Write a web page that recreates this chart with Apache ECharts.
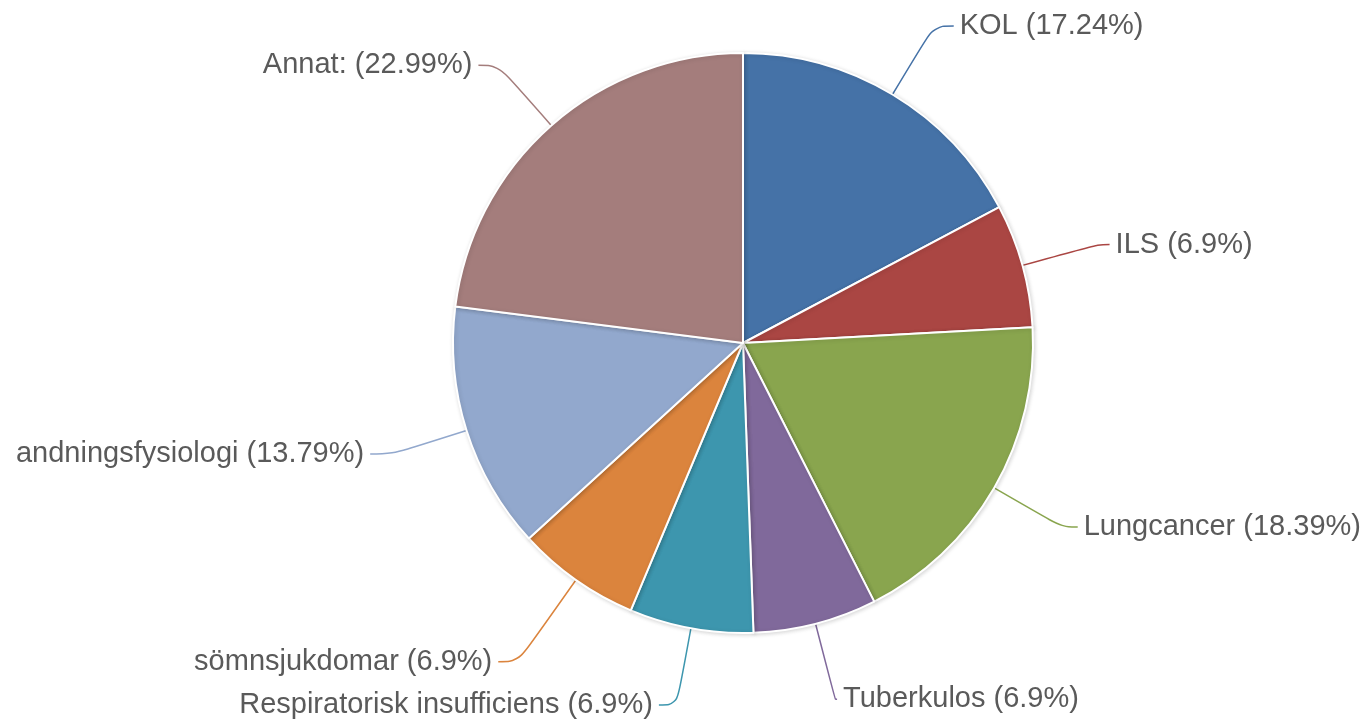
<!DOCTYPE html>
<html>
<head>
<meta charset="utf-8">
<script src="https://cdn.jsdelivr.net/npm/echarts@6/dist/echarts.min.js"></script>
<style>
html,body{margin:0;padding:0;background:#fff;}
#main{width:1370px;height:722px;}
</style>
</head>
<body>
<div id="main"></div>
<script>
const categories = ['KOL', 'ILS', 'Lungcancer', 'Tuberkulos', 'Respiratorisk insufficiens', 'sömnsjukdomar', 'andningsfysiologi', 'Annat:'];
const percentages = [17.24, 6.9, 18.39, 6.9, 6.9, 6.9, 13.79, 22.99];
const colors = ['#4572A7', '#AA4643', '#89A54E', '#80699B', '#3D96AE', '#DB843D', '#92A8CD', '#A47D7C'];
// connector lengths per slice (radial part, horizontal part)
const lineLen = [80, 78, 78, 78, 78, 100, 78, 80];
const lineLen2 = [20, 12, 16, 2, 18, 20, 22, 20];

const chart = echarts.init(document.getElementById('main'), null, {renderer: 'canvas'});
chart.setOption({
  animation: false,
  backgroundColor: '#ffffff',
  series: [{
    type: 'pie',
    center: [743, 343],
    radius: [0, 290],
    startAngle: 90,
    clockwise: true,
    avoidLabelOverlap: true,
    data: categories.map((c, i) => ({
      name: c,
      value: percentages[i],
      itemStyle: {color: colors[i]},
      labelLine: {length: lineLen[i], length2: lineLen2[i], lineStyle: {color: colors[i]}}
    })),
    itemStyle: {borderColor: '#ffffff', borderWidth: 2, shadowColor: 'rgba(0,0,0,0.15)', shadowBlur: 4, shadowOffsetX: 1, shadowOffsetY: 1},
    label: {
      show: true,
      position: 'outside',
      overflow: 'none',
      formatter: p => p.name + ' (' + p.value + '%)',
      fontFamily: '"Liberation Sans", Arial, sans-serif',
      fontSize: 29,
      color: '#5a5a5a',
      distanceToLabelLine: 6
    },
    labelLine: {show: true, smooth: 0.4, lineStyle: {width: 1.5}},
    emphasis: {disabled: true}
  }]
});
</script>
</body>
</html>
